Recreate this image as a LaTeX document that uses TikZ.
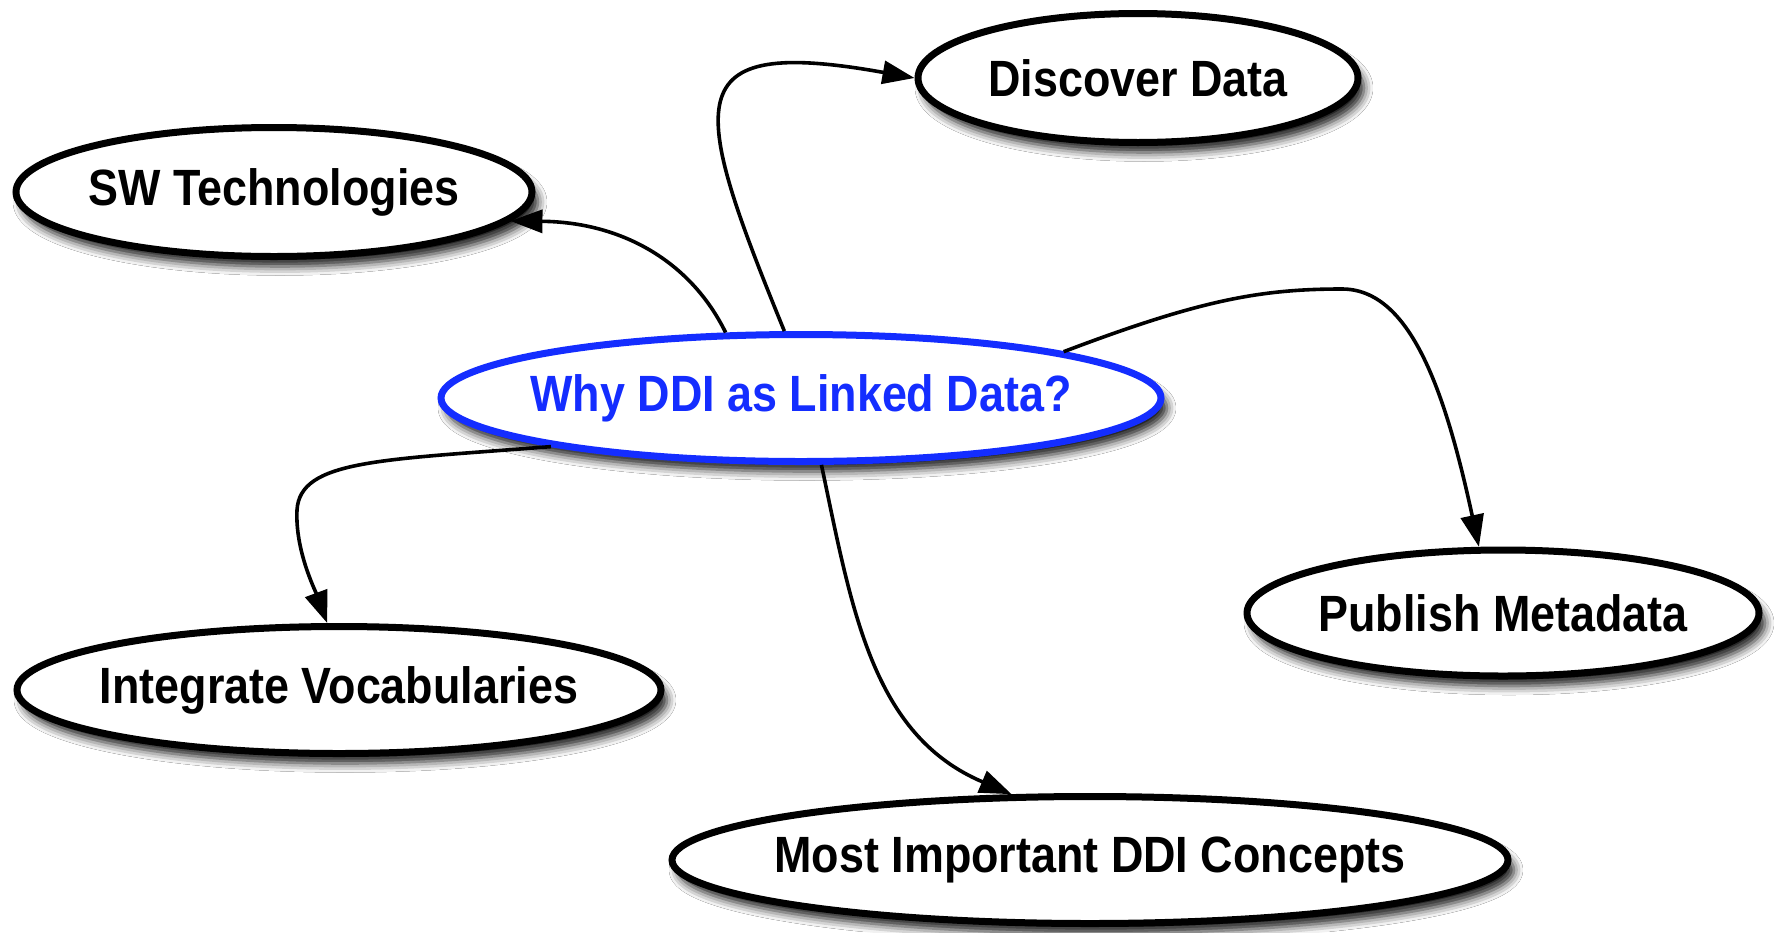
\documentclass[tikz,border=0pt]{standalone}
\usepackage{fontspec}
\setmainfont{Liberation Sans}
\usepackage{graphicx}
\usetikzlibrary{shapes.geometric,arrows.meta,shadows.blur}
\definecolor{ddiblue}{RGB}{20,45,255}
\newcommand{\lbl}[1]{\makebox[0pt]{\raisebox{-3pt}{\scalebox{0.88}[1]{#1}}}}
\tikzset{
  topic/.style={ellipse, draw=black, line width=7pt, fill=white, inner sep=0pt,
    font=\fontsize{51}{60}\selectfont\bfseries,
    blur shadow={shadow xshift=6pt, shadow yshift=-10pt, shadow blur radius=9pt, shadow opacity=90}},
  central/.style={topic, draw=ddiblue, text=ddiblue},
  link/.style={line width=3.6pt, -{Triangle[length=32pt,width=23pt]}}
}
\begin{document}
\begin{tikzpicture}[x=1pt,y=-1pt]
\useasboundingbox[fill=white] (0,0) rectangle (1776,932);
\node[topic, minimum width=516pt, minimum height=129pt] (sw) at (274,192) {\lbl{SW Technologies}};
\node[topic, minimum width=440pt, minimum height=129pt] (dd) at (1138,78) {\lbl{Discover Data}};
\node[central, minimum width=720pt, minimum height=127pt] (why) at (801,398) {\lbl{Why DDI as Linked Data?}};
\node[topic, minimum width=512pt, minimum height=126pt] (pub) at (1503,613) {\lbl{Publish Metadata}};
\node[topic, minimum width=644pt, minimum height=127pt] (iv) at (339,690) {\lbl{Integrate Vocabularies}};
\node[topic, minimum width=836pt, minimum height=127pt] (mic) at (1090,860) {\lbl{Most Important DDI Concepts}};

\draw[link] (why.139) .. controls (690,260) and (620,222) .. (sw.-7);
\draw[link] (why.104) .. controls (690,100) and (675,35) .. (dd.180);
\draw[link] (why.10) .. controls (1200,300) and (1260,289) .. (1342,289)
   .. controls (1410,289) and (1445,390) .. (pub.110);
\draw[link] (why.-169) .. controls (380,460) and (300,460) .. (297,510)
   .. controls (295,550) and (315,590) .. (iv.100);
\draw[link] (why.-73) .. controls (852,610) and (872,735) .. (mic.140);
\end{tikzpicture}
\end{document}
